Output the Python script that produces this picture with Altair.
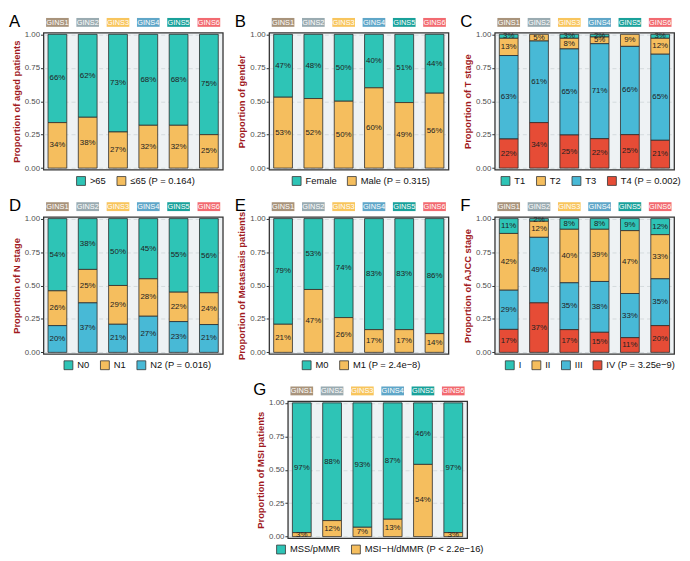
import json
import altair as alt
import pandas as pd

GROUPS = ["GINS1", "GINS2", "GINS3", "GINS4", "GINS5", "GINS6"]
STRIP_COLORS = ["#a8937b", "#9aabb1", "#f8c55d", "#5fa6c8", "#19a19a", "#f26a70"]

TEAL, ORANGE, BLUE, RED = "#2ec4b6", "#f5be5e", "#48b9d6", "#e64c36"

# Panel A: age
A_CATS = [">65", "≤65"]
A_GT65 = [66, 62, 73, 68, 68, 75]
A_LE65 = [34, 38, 27, 32, 32, 25]

# Panel B: gender
B_CATS = ["Female", "Male"]
B_FEMALE = [47, 48, 50, 40, 51, 44]
B_MALE = [53, 52, 50, 60, 49, 56]

# Panel C: T stage
C_CATS = ["T1", "T2", "T3", "T4"]
C_T1 = [3, 0, 3, 2, 0, 3]
C_T2 = [13, 5, 8, 5, 9, 12]
C_T3 = [63, 61, 65, 71, 66, 65]
C_T4 = [22, 34, 25, 22, 25, 21]

# Panel D: N stage
D_CATS = ["N0", "N1", "N2"]
D_N0 = [54, 38, 50, 45, 55, 56]
D_N1 = [26, 25, 29, 28, 22, 24]
D_N2 = [20, 37, 21, 27, 23, 21]

# Panel E: metastasis
E_CATS = ["M0", "M1"]
E_M0 = [79, 53, 74, 83, 83, 86]
E_M1 = [21, 47, 26, 17, 17, 14]

# Panel F: AJCC stage
F_CATS = ["I", "II", "III", "IV"]
F_I = [11, 2, 8, 8, 9, 12]
F_II = [42, 12, 40, 39, 47, 33]
F_III = [29, 49, 35, 38, 33, 35]
F_IV = [17, 37, 17, 15, 11, 20]

# Panel G: MSI
G_CATS = ["MSS/pMMR", "MSI−H/dMMR"]
G_MSS = [97, 88, 93, 87, 46, 97]
G_MSI = [3, 12, 7, 13, 54, 3]

W, H = 182, 139
FONT = "Liberation Sans"
LEG_FS = 9.5
SYM = 9
LBL_OFF = 4
COL_PAD = 8

# approximate Arial advance widths (per 1000 em) for centring the legends
_AW = {" ": 278, "(": 333, ")": 333, "=": 584, ".": 278, ">": 584, "<": 584,
       "≤": 549, "−": 584, "-": 333, "/": 278}
for ch in "0123456789":
    _AW[ch] = 556
_AW.update(dict(zip("abcdefghijklmnopqrstuvwxyz",
                    [556, 556, 500, 556, 556, 278, 556, 556, 222, 222, 500, 222, 833,
                     556, 556, 556, 556, 333, 500, 278, 556, 500, 722, 500, 500, 500])))
_AW.update(dict(zip("ABCDEFGHIJKLMNOPQRSTUVWXYZ",
                    [667, 667, 722, 722, 667, 611, 778, 722, 278, 500, 667, 556, 833,
                     722, 778, 667, 778, 722, 667, 611, 722, 667, 944, 667, 667, 611])))


def text_w(s, fs):
    return sum(_AW.get(c, 556) for c in s) * fs / 1000.0


def y_axis():
    return alt.Axis(values=[0, 0.25, 0.5, 0.75, 1.0], format=".2f",
                    labelOverlap=False,
                    domain=False, tickSize=3, tickColor="#333",
                    labelFontSize=8, labelColor="#4d4d4d", labelPadding=1,
                    titleFontSize=9.5, titleFontWeight="bold",
                    titleColor="#a11a1e", titlePadding=3,
                    grid=True, gridDash=[4, 3], gridColor="#c9d0d3",
                    gridWidth=0.7)


def panel(letter, ytitle, cats, series, colors, ptxt):
    rows = []
    for ci, (cat, vals) in enumerate(zip(cats, series)):
        for g, v in zip(GROUPS, vals):
            rows.append({"group": g, "cat": cat, "ord": ci, "value": v})
    df = pd.DataFrame(rows)
    sdf = pd.DataFrame({"group": GROUPS, "col": STRIP_COLORS})

    base = (
        alt.Chart(df)
        .transform_filter("datum.value > 0")
        .transform_joinaggregate(total="sum(value)", groupby=["group"])
        .transform_calculate(frac="datum.value / datum.total")
        .transform_stack(
            as_=["y0", "y1"], stack="frac", groupby=["group"],
            sort=[alt.SortField("ord", order="descending")],
        )
        .transform_calculate(mid="(datum.y0 + datum.y1) / 2", lbl="datum.value + '%'")
    )
    x = alt.X("group:N", sort=GROUPS,
              scale=alt.Scale(domain=GROUPS, paddingInner=0.38, paddingOuter=0.15),
              axis=None)
    yscale = alt.Scale(domain=[-0.012, 1.012], nice=False, zero=False)
    last = cats[-1]
    labels = list(cats[:-1]) + [last + " " + ptxt]
    label_expr = "datum.label == %s ? %s : datum.label" % (
        json.dumps(last, ensure_ascii=False),
        json.dumps(labels[-1], ensure_ascii=False),
    )
    leg_w = sum(SYM + LBL_OFF + text_w(l, LEG_FS) for l in labels) + COL_PAD * (len(labels) - 1)
    bars = base.mark_bar(stroke="#2b2b2b", strokeWidth=0.8).encode(
        x=x,
        y=alt.Y("y0:Q", scale=yscale, title=ytitle, axis=y_axis()),
        y2="y1:Q",
        color=alt.Color("cat:N", scale=alt.Scale(domain=cats, range=colors),
                        legend=alt.Legend(title=None, orient="none", direction="horizontal",
                                          legendX=(W - leg_w) / 2, legendY=H + 6,
                                          symbolType="square", symbolSize=SYM * SYM,
                                          symbolStrokeColor="#333", symbolStrokeWidth=0.8,
                                          labelFontSize=LEG_FS, labelColor="#111",
                                          labelOffset=LBL_OFF,
                                          columnPadding=COL_PAD, padding=0,
                                          labelExpr=label_expr)),
    )
    texts = base.mark_text(fontSize=8, color="#222", font=FONT).encode(
        x=x, y=alt.Y("mid:Q", scale=yscale, title=ytitle, axis=y_axis()), text="lbl:N")
    strips = alt.Chart(sdf).mark_bar(width=23).encode(
        x=x, y=alt.value(-15), y2=alt.value(-6), color=alt.Color("col:N", scale=None))
    stext = alt.Chart(sdf).mark_text(color="white", fontSize=7.5, baseline="middle",
                                     font=FONT).encode(
        x=x, y=alt.value(-10.3), text="group:N")
    let = alt.Chart(pd.DataFrame({"t": [letter]})).mark_text(
        align="left", baseline="middle", fontSize=17, font=FONT, color="#000").encode(
        x=alt.value(-35), y=alt.value(-11), text="t:N")
    return alt.layer(bars, texts, strips, stext, let).properties(width=W, height=H)


pA = panel("A", "Proportion of aged patients", A_CATS, [A_GT65, A_LE65], [TEAL, ORANGE], "(P = 0.164)")
pB = panel("B", "Proportion of gender", B_CATS, [B_FEMALE, B_MALE], [TEAL, ORANGE], "(P = 0.315)")
pC = panel("C", "Proportion of T stage", C_CATS, [C_T1, C_T2, C_T3, C_T4],
           [TEAL, ORANGE, BLUE, RED], "(P = 0.002)")
pD = panel("D", "Proportion of N stage", D_CATS, [D_N0, D_N1, D_N2],
           [TEAL, ORANGE, BLUE], "(P = 0.016)")
pE = panel("E", "Proportion of Metastasis patients", E_CATS, [E_M0, E_M1],
           [TEAL, ORANGE], "(P = 2.4e−8)")
pF = panel("F", "Proportion of AJCC stage", F_CATS, [F_I, F_II, F_III, F_IV],
           [TEAL, ORANGE, BLUE, RED], "(P = 3.25e−9)")
pG = panel("G", "Proportion of MSI patients", G_CATS, [G_MSS, G_MSI],
           [TEAL, ORANGE], "(P < 2.2e−16)")

spacer = alt.Chart(pd.DataFrame({"a": [0]})).mark_point(opacity=0).properties(
    width=211, height=1,
    view=alt.ViewBackground(stroke="transparent", fill="transparent"))

row1 = alt.hconcat(pA, pB, pC, spacing=10).resolve_scale(color="independent")
row2 = alt.hconcat(pD, pE, pF, spacing=10).resolve_scale(color="independent")
row3 = alt.hconcat(spacer, pG, spacing=0).resolve_scale(color="independent")

chart = (
    alt.vconcat(row1, row2, row3, spacing=8)
    .resolve_scale(color="independent")
    .properties(padding=0)
    .configure(font=FONT)
    .configure_view(stroke="#333", strokeWidth=1.3, fill="#eef2f4")
)

chart.save("out.html", embed_options={"renderer": "svg", "actions": False})
